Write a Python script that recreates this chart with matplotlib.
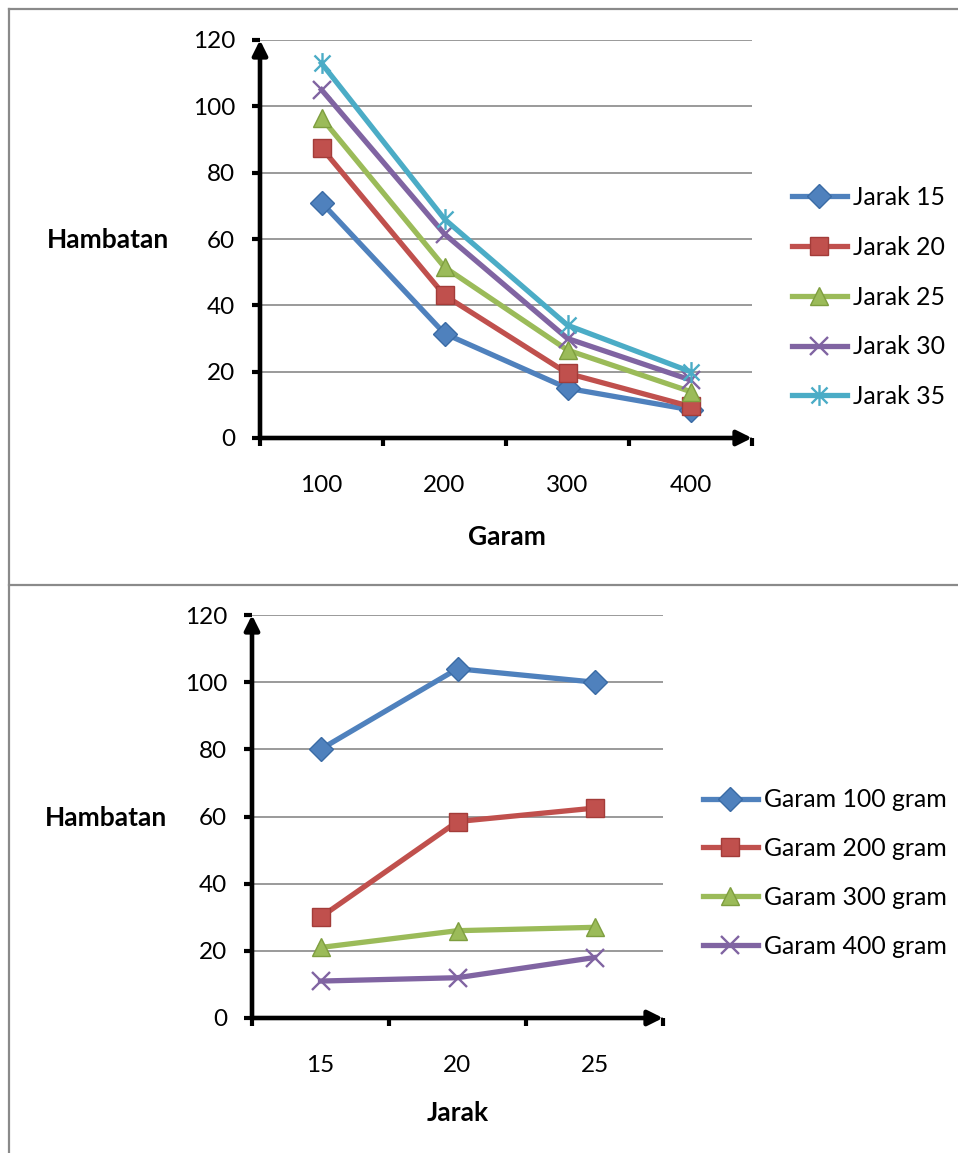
import matplotlib
matplotlib.use("Agg")
import matplotlib.pyplot as plt
from matplotlib.path import Path
from matplotlib.lines import Line2D

plt.rcParams['font.family'] = ['Lato', 'DejaVu Sans']

# ---- data ----
garam_labels = ["100", "200", "300", "400"]
jarak15 = [71, 31.5, 15, 8.5]
jarak20 = [87.5, 43, 19.5, 9.5]
jarak25 = [96.5, 51.5, 26.5, 14]
jarak30 = [105, 61.5, 30, 17.5]
jarak35 = [113, 66, 34, 20]
top_names = ["Jarak 15", "Jarak 20", "Jarak 25", "Jarak 30", "Jarak 35"]

jarak_labels = ["15", "20", "25"]
garam100 = [80, 104, 100]
garam200 = [30, 58.5, 62.5]
garam300 = [21, 26, 27]
garam400 = [11, 12, 18]
bottom_names = ["Garam 100 gram", "Garam 200 gram", "Garam 300 gram", "Garam 400 gram"]

yticks = [0, 20, 40, 60, 80, 100, 120]

# ---- styles ----
colors = ["#4F81BD", "#C0504D", "#9BBB59", "#8064A2", "#4BACC6"]
edges = ["#3A6BA5", "#A33C39", "#7E9E3F", "#654C88", "#3295AF"]
star = Path([(-1, -1), (1, 1), (-1, 1), (1, -1), (0, -1.3), (0, 1.3)],
            [Path.MOVETO, Path.LINETO, Path.MOVETO, Path.LINETO, Path.MOVETO, Path.LINETO])
markers = ['D', 's', '^', 'x', star]
msizes = [12, 12.5, 13, 13, 15]
FS = 17.5
LFS = 17.9

W, H = 958, 1153
fig = plt.figure(figsize=(W / 100, H / 100), dpi=100)


def fx(px):
    return px / W


def fy(py):
    return 1 - py / H


# frame lines
frame_col = "#8a8a8a"
fig.add_artist(Line2D([fx(9), fx(958)], [fy(9), fy(9)], color=frame_col, lw=1.6))
fig.add_artist(Line2D([fx(9), fx(9)], [fy(9), fy(1153)], color=frame_col, lw=1.6))
fig.add_artist(Line2D([fx(9), fx(958)], [fy(585), fy(585)], color=frame_col, lw=1.6))


def style_axes(ax, ncat, labels):
    ax.set_xlim(0.5, ncat + 0.5)
    ax.set_ylim(0, 120)
    for s in ax.spines.values():
        s.set_visible(False)
    ax.set_yticks(yticks)
    ax.set_yticklabels([str(v) for v in yticks], fontsize=FS)
    ax.yaxis.grid(True, color="#7f7f7f", lw=1.1)
    ax.set_axisbelow(True)
    ax.tick_params(axis='y', length=6, width=3, direction='out', pad=12, color='black')
    # category boundaries as major ticks, labels on minor ticks
    ax.set_xticks([i + 0.5 for i in range(ncat + 1)])
    ax.set_xticklabels([])
    ax.set_xticks(list(range(1, ncat + 1)), minor=True)
    ax.set_xticklabels(labels, minor=True, fontsize=FS)
    ax.tick_params(axis='x', which='major', length=6, width=3, direction='out', color='black')
    ax.tick_params(axis='x', which='minor', length=0, pad=27)
    ax.set_facecolor('none')
    # axis lines with arrows
    ax.annotate('', xy=(0, 1), xytext=(0, 0), xycoords='axes fraction',
                arrowprops=dict(arrowstyle='-|>', lw=3.3, color='black', mutation_scale=22,
                                shrinkA=0, shrinkB=0), annotation_clip=False)
    ax.annotate('', xy=(1, 0), xytext=(0, 0), xycoords='axes fraction',
                arrowprops=dict(arrowstyle='-|>', lw=3.3, color='black', mutation_scale=22,
                                shrinkA=0, shrinkB=0), annotation_clip=False)


def draw_series(ax, series, names, ncat):
    xs = list(range(1, ncat + 1))
    for i, vals in enumerate(series):
        filled = i < 3
        ax.plot(xs, vals, color=colors[i], lw=3.8, marker=markers[i], ms=msizes[i],
                mfc=colors[i], mec=edges[i] if filled else colors[i],
                mew=1 if filled else 1.7, label=names[i], zorder=3 + i)


# ---- top chart ----
ax1 = fig.add_axes([fx(260), fy(438), fx(752) - fx(260), fy(40) - fy(438)])
draw_series(ax1, [jarak15, jarak20, jarak25, jarak30, jarak35], top_names, len(garam_labels))
style_axes(ax1, len(garam_labels), garam_labels)
leg1 = ax1.legend(loc='center left', frameon=False,
                  fontsize=LFS, handlelength=2.2, handletextpad=0.25, labelspacing=1.08,
                  borderaxespad=0, borderpad=0)
leg1.set_bbox_to_anchor((fx(792), fy(297)), transform=fig.transFigure)
fig.text(fx(108), fy(240), "Hambatan", fontsize=19, fontweight='bold', ha='center', va='center')
fig.text(fx(507), fy(537), "Garam", fontsize=19, fontweight='bold', ha='center', va='center')

# ---- bottom chart ----
ax2 = fig.add_axes([fx(252), fy(1018), fx(663) - fx(252), fy(615) - fy(1018)])
draw_series(ax2, [garam100, garam200, garam300, garam400], bottom_names, len(jarak_labels))
style_axes(ax2, len(jarak_labels), jarak_labels)
leg2 = ax2.legend(loc='center left', frameon=False,
                  fontsize=LFS, handlelength=2.2, handletextpad=0.25, labelspacing=1.04,
                  borderaxespad=0, borderpad=0)
leg2.set_bbox_to_anchor((fx(703), fy(873)), transform=fig.transFigure)
fig.text(fx(106), fy(818), "Hambatan", fontsize=19, fontweight='bold', ha='center', va='center')
fig.text(fx(458), fy(1113), "Jarak", fontsize=19, fontweight='bold', ha='center', va='center')

fig.savefig("out.png", dpi=100, facecolor='white')
